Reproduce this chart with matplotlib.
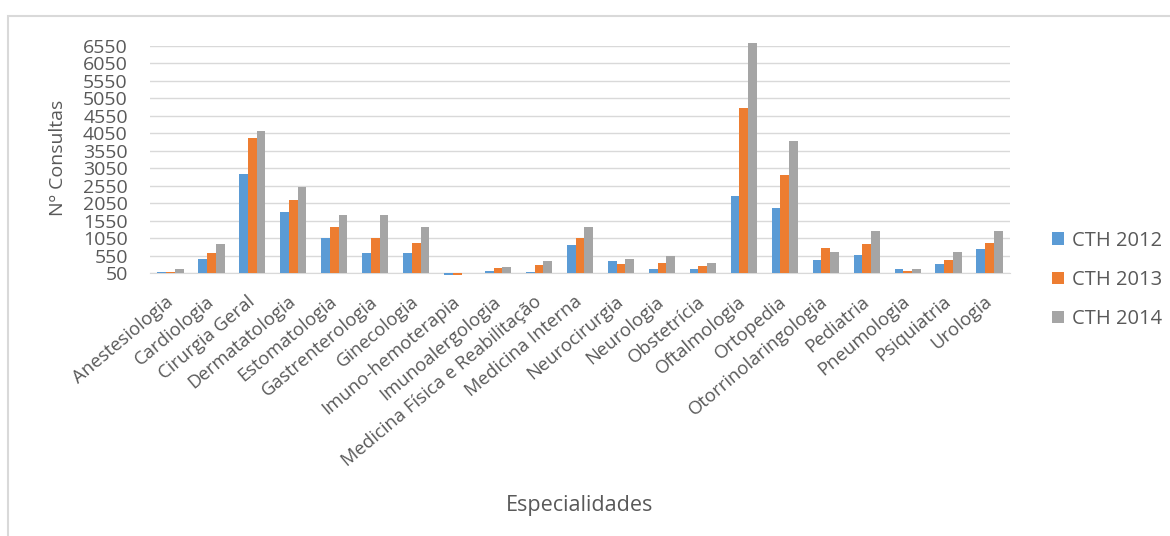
import numpy as np
import matplotlib.pyplot as plt
from matplotlib.patches import Rectangle

categories = ["Anestesiologia", "Cardiologia", "Cirurgia Geral", "Dermatatologia",
              "Estomatologia", "Gastrenterologia", "Ginecologia", "Imuno-hemoterapia",
              "Imunoalergologia", "Medicina Física e Reabilitação", "Medicina Interna",
              "Neurocirurgia", "Neurologia", "Obstetrícia", "Oftalmologia", "Ortopedia",
              "Otorrinolaringologia", "Pediatria", "Pneumologia", "Psiquiatria", "Urologia"]
series = ["CTH 2012", "CTH 2013", "CTH 2014"]
cth_2012 = [85, 460, 2880, 1785, 1060, 620, 615, 0, 115, 80, 840,
            405, 175, 175, 2260, 1910, 430, 555, 175, 305, 745]
cth_2013 = [85, 620, 3920, 2130, 1375, 1060, 905, 0, 185, 280, 1060,
            305, 335, 240, 4770, 2850, 775, 870, 115, 430, 900]
cth_2014 = [155, 870, 4110, 2510, 1720, 1720, 1365, np.nan, 210, 405, 1365,
            460, 545, 335, 6630, 3825, 650, 1250, 155, 650, 1250]
yticks = list(range(50, 6551, 500))

colors = ["#5B9BD5", "#ED7D31", "#A5A5A5"]
txt = "#595959"
plt.rcParams['font.family'] = ['Open Sans', 'DejaVu Sans']

fig = plt.figure(figsize=(11.7, 5.36), dpi=100)
ax = fig.add_axes([150 / 1170, 1 - 273 / 536, 860 / 1170, 227 / 536])

x = np.arange(len(categories))
w = 0.213
base = 50  # the category axis crosses at 50
for i, (vals, c, lab) in enumerate(zip([cth_2012, cth_2013, cth_2014], colors, series)):
    v = np.array(vals, dtype=float)
    ax.bar(x + (i - 1) * w, v - base, w, bottom=base, color=c, label=lab,
           zorder=3, clip_on=False)

ax.set_xlim(-0.5, len(categories) - 0.5)
ax.set_ylim(50, 6550)
ax.set_yticks(yticks)
ax.set_yticklabels([str(t) for t in yticks], fontsize=14, color=txt)
ax.yaxis.grid(True, color="#d9d9d9", lw=1, zorder=0)
ax.set_xticks(x)
ax.set_xticklabels(categories, rotation=40, ha="right", va="center",
                   rotation_mode="anchor", fontsize=13.3, color=txt)
ax.tick_params(axis="x", length=0, pad=19)
ax.tick_params(axis="y", length=0, pad=16)
for s in ["top", "right", "left"]:
    ax.spines[s].set_visible(False)
ax.spines["bottom"].set_color("#d9d9d9")
ax.set_ylabel("Nº Consultas", fontsize=14, color=txt)
ax.yaxis.set_label_coords(67 / 1170, 1 - 158 / 536, transform=fig.transFigure)

fig.text(580 / 1170, 1 - 505 / 536, "Especialidades", ha="center", va="center",
         fontsize=15.5, color=txt)

ax.legend(loc="center left", bbox_to_anchor=(1034 / 1170, 1 - 280 / 536),
          bbox_transform=fig.transFigure, frameon=False, fontsize=14.5,
          labelcolor=txt, handlelength=0.6, handleheight=0.6, handletextpad=0.4,
          labelspacing=0.95)

fig.patches.append(Rectangle((8 / 1170, -0.05), 1.1, 1 - 16 / 536 + 0.05,
                             transform=fig.transFigure, fill=False,
                             edgecolor="#d9d9d9", lw=1.5, zorder=0))

fig.savefig("out.png", dpi=100)
